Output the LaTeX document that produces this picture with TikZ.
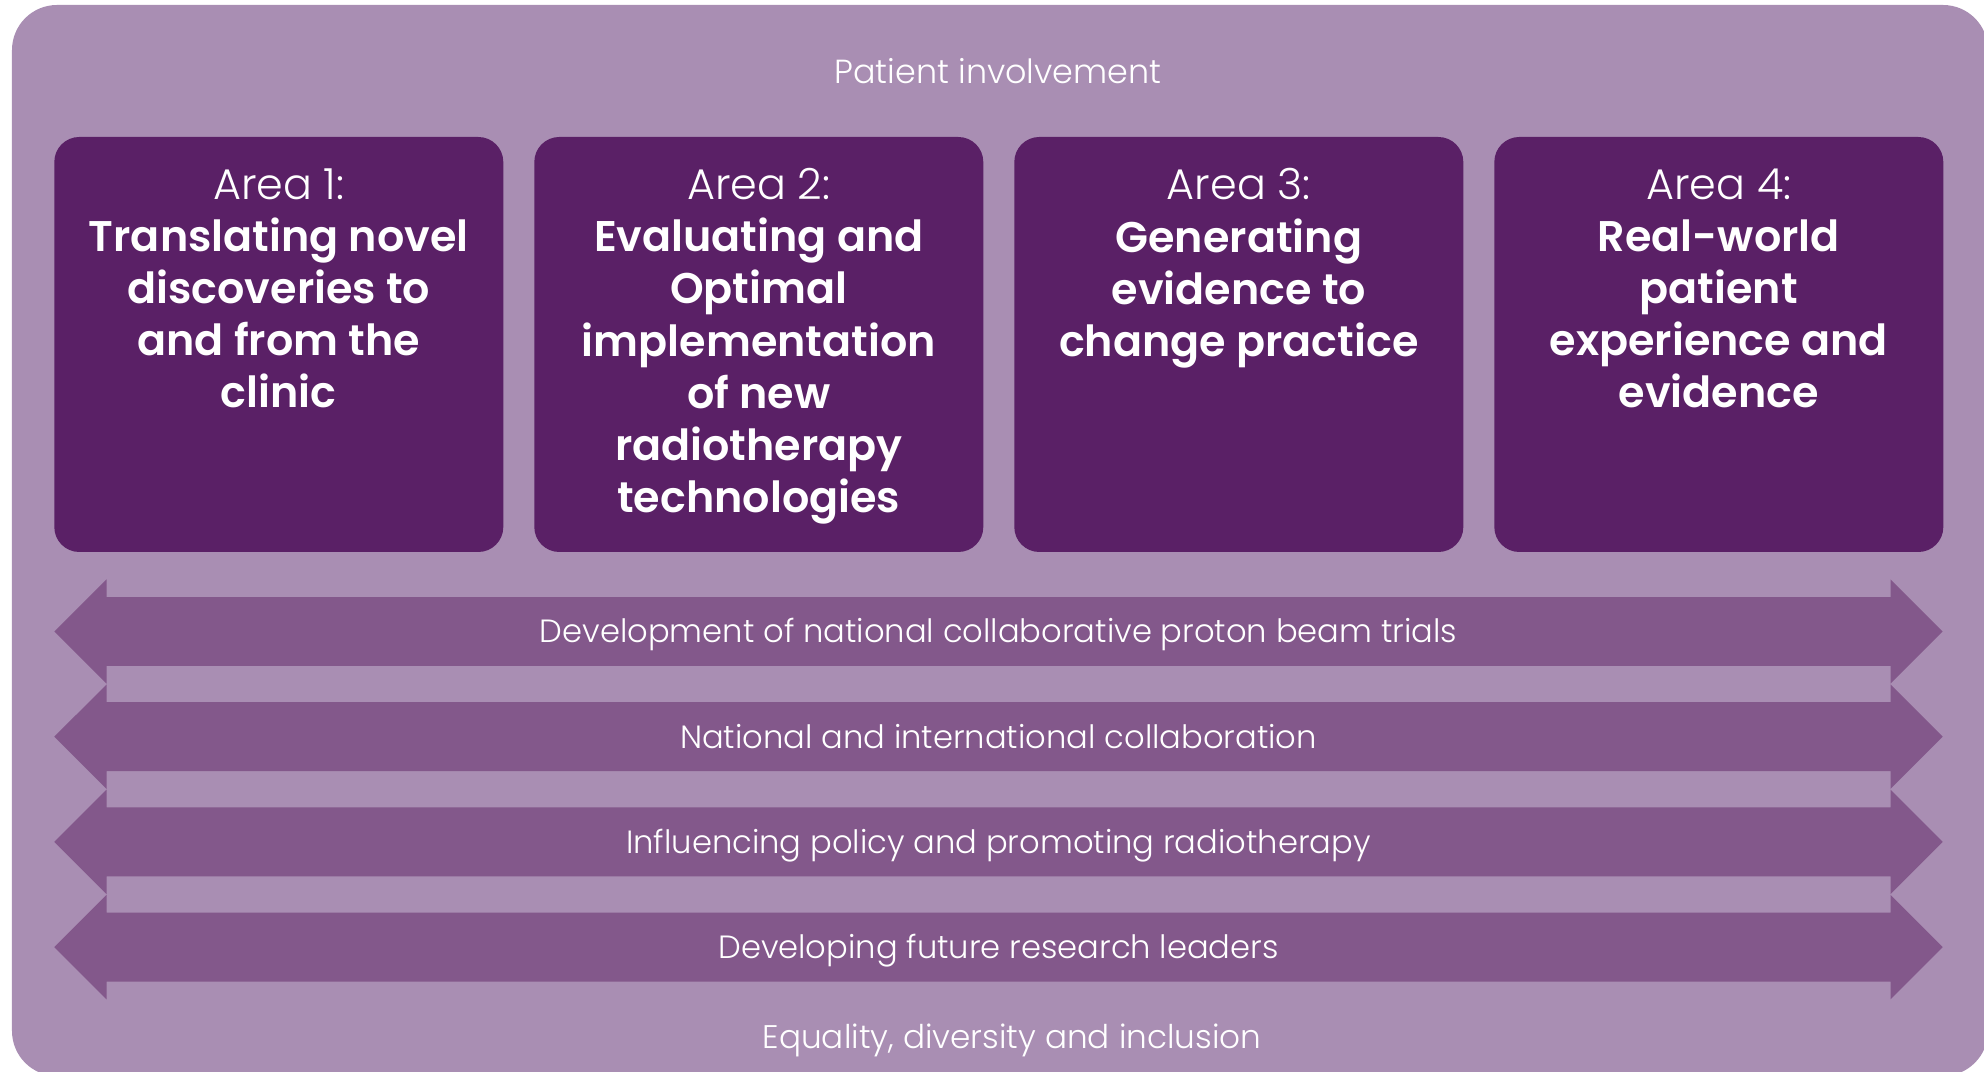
\documentclass[tikz,border=0pt]{standalone}
\usepackage{fontspec}
\setmainfont{Poppins}
\newfontfamily\arealight{Poppins Light}
\newfontfamily\areasemi{Poppins SemiBold}
\usepackage{xcolor}
\usepackage{tikz}
\usetikzlibrary{positioning, shapes.arrows}
\definecolor{rlilac}{HTML}{A98EB3}
\definecolor{rplum}{HTML}{5A2066}
\definecolor{rmauve}{HTML}{83588B}

\begin{document}
\begin{tikzpicture}[x=1cm, y=1cm,
  area/.style={fill=rplum, rounded corners=0.25cm, minimum width=4.49cm,
    minimum height=4.15cm, inner sep=0pt, outer sep=0pt},
  areatext/.style={anchor=north, text=white, align=center, inner sep=0pt,
    font=\fontsize{12.2}{14.8}\selectfont\areasemi},
  theme/.style={double arrow, double arrow head extend=0.1775cm, fill=rmauve,
    minimum height=18.884cm, inner ysep=0pt, text height=0.4525cm,
    text depth=0.2225cm, text=white, font=\fontsize{9.15}{11}\selectfont\arealight},
  band/.style={text=white, inner sep=0pt}]
\useasboundingbox (0,0) rectangle (19.84,10.71);
\fill[rlilac, rounded corners=0.45cm] (0.12,-0.05) rectangle (19.88,10.66);
\node[band, font=\fontsize{9.5}{11}\selectfont\arealight] (patient) at (9.98,10.00) {Patient involvement};
% the four research areas
\node[area] (a1) at (2.788,7.265) {};
\node[area, right=0.31cm of a1] (a2) {};
\node[area, right=0.31cm of a2] (a3) {};
\node[area, right=0.31cm of a3] (a4) {};
\node[areatext] (t1) at ([yshift=-0.31cm]a1.north)
  {{\arealight Area 1:}\\Translating novel\\discoveries to\\and from the\\clinic};
\node[areatext] (t2) at ([yshift=-0.31cm]a2.north)
  {{\arealight Area 2:}\\Evaluating and\\Optimal\\implementation\\of new\\radiotherapy\\technologies};
\node[areatext] (t3) at ([yshift=-0.31cm]a3.north)
  {{\arealight Area 3:}\\Generating\\evidence to\\change practice};
\node[areatext] (t4) at ([yshift=-0.31cm]a4.north)
  {{\arealight Area 4:}\\Real-world\\patient\\experience and\\evidence};
% cross-cutting themes
\node[theme] (th1) at (9.985,4.395) {Development of national collaborative proton beam trials};
\node[theme] (th2) at (9.985,3.343) {National and international collaboration};
\node[theme] (th3) at (9.985,2.291) {Influencing policy and promoting radiotherapy};
\node[theme] (th4) at (9.985,1.239) {Developing future research leaders};
\node[band, font=\fontsize{9.3}{11}\selectfont\arealight] (equality) at (10.12,0.31) {Equality, diversity and inclusion};
\end{tikzpicture}
\end{document}
